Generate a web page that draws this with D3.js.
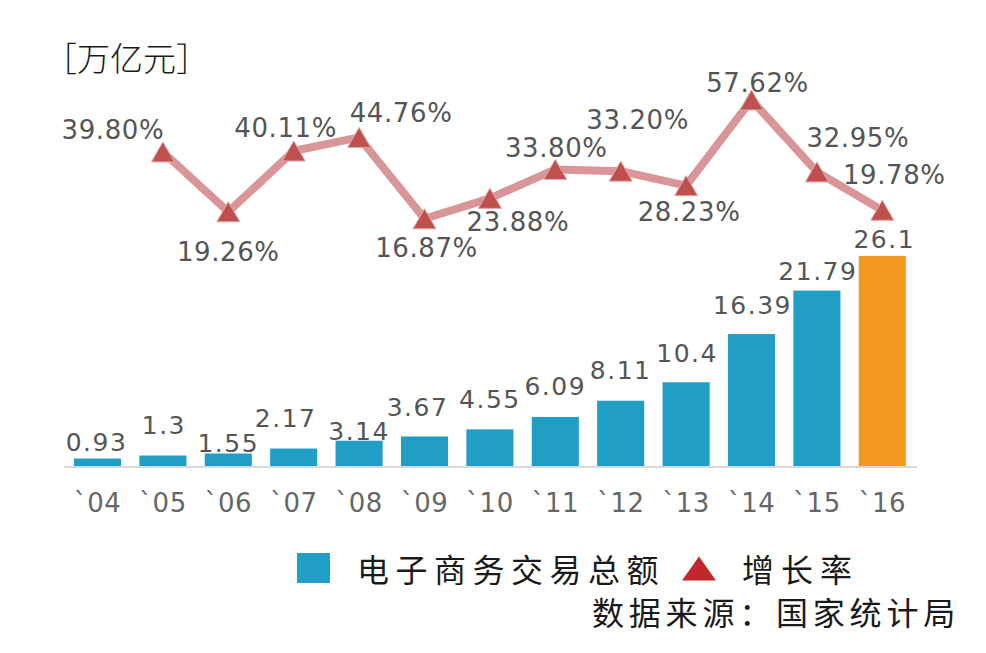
<!DOCTYPE html>
<html>
<head>
<meta charset="utf-8">
<script src="https://cdn.jsdelivr.net/npm/d3@7"></script>
<style>
  html, body { margin: 0; padding: 0; background: #ffffff; }
  svg { display: block; }
</style>
</head>
<body>
<svg id="chart" width="986" height="653"></svg>
<script>
// ---- data ----
const years = ["`04", "`05", "`06", "`07", "`08", "`09", "`10", "`11", "`12", "`13", "`14", "`15", "`16"];
const totals = [0.93, 1.3, 1.55, 2.17, 3.14, 3.67, 4.55, 6.09, 8.11, 10.4, 16.39, 21.79, 26.1];
const totalLabels = ["0.93", "1.3", "1.55", "2.17", "3.14", "3.67", "4.55", "6.09", "8.11", "10.4", "16.39", "21.79", "26.1"];
const growthYears = ["`05", "`06", "`07", "`08", "`09", "`10", "`11", "`12", "`13", "`14", "`15", "`16"];
const growth = [39.80, 19.26, 40.11, 44.76, 16.87, 23.88, 33.80, 33.20, 28.23, 57.62, 32.95, 19.78];
const unitLabel = "［万亿元］";
const legendBar = "电子商务交易总额";
const legendLine = "增长率";
const sourceText = "数据来源：国家统计局";

// ---- layout ----
const svg = d3.select("#chart");
const numFont = "'DejaVu Sans', Verdana, sans-serif";
const cjkFont = "'Noto Sans CJK SC', 'Noto Sans', sans-serif";

const x = d3.scaleBand().domain(years).range([64.8, 64.8 + 13 * 65.4]).paddingInner(0.28).paddingOuter(0.14);
const yBar = d3.scaleLinear().domain([0, 30]).range([466, 466 - 30 * 8.05]);
const yLine = d3.scaleLinear().domain([0, 60]).range([268, 93]);
const cx = d => x(d) + x.bandwidth() / 2;

// bar label offsets (relative to bar centre / bar top)
const barLabelOff = [[-1, -16], [1, -30], [0, -10], [-8, -30], [0, -9], [-7, -29], [0, -30],
                     [0, -30], [0, -30], [1, -29], [1, -29], [1, -19], [2, -16]];
// growth label offsets (relative to point)
const lineLabelOff = [[-50, -22], [0, 40], [-8, -23], [42, -24], [2, 29], [28, 24], [1, -21],
                      [17, -51], [3, 26], [6, -17], [41, -34], [12, -35]];

// unit title
svg.append("text")
  .attr("x", 44).attr("y", 57)
  .attr("dominant-baseline", "central")
  .attr("font-family", cjkFont).attr("font-size", 33).attr("font-weight", 300)
  .attr("fill", "#1a1a1a")
  .text(unitLabel);

// baseline
svg.append("line")
  .attr("x1", 64).attr("x2", 917)
  .attr("y1", yBar(0) + 1).attr("y2", yBar(0) + 1)
  .attr("stroke", "#d9d9d9").attr("stroke-width", 2);

// bars
svg.append("g").selectAll("rect").data(years).join("rect")
  .attr("x", d => x(d))
  .attr("width", x.bandwidth())
  .attr("y", (d, i) => yBar(totals[i]))
  .attr("height", (d, i) => yBar(0) - yBar(totals[i]))
  .attr("fill", (d, i) => i === years.length - 1 ? "#f29a1f" : "#219ec6");

// bar value labels
svg.append("g").selectAll("text").data(years).join("text")
  .attr("x", (d, i) => cx(d) + barLabelOff[i][0])
  .attr("y", (d, i) => yBar(totals[i]) + barLabelOff[i][1])
  .attr("text-anchor", "middle").attr("dominant-baseline", "central")
  .attr("font-family", numFont).attr("font-size", 25).attr("letter-spacing", 1.5)
  .attr("fill", "#555")
  .text((d, i) => totalLabels[i]);

// x axis labels
const xAxis = d3.axisBottom(x).tickSize(0).tickPadding(0);
const gx = svg.append("g").attr("transform", `translate(0,${503})`).call(xAxis);
gx.select(".domain").remove();
gx.selectAll("text")
  .attr("dy", null).attr("y", 0)
  .attr("dominant-baseline", "central")
  .attr("font-family", numFont).attr("font-size", 26).attr("letter-spacing", 0.5)
  .attr("fill", "#666");

// growth line
const line = d3.line().x(d => cx(d[0])).y(d => yLine(d[1]));
const pts = growthYears.map((g, i) => [g, growth[i]]);
svg.append("path")
  .datum(pts)
  .attr("d", line)
  .attr("fill", "none")
  .attr("stroke", "#d99598").attr("stroke-width", 8).attr("stroke-linejoin", "round");

// triangles
const tri = (px, py, w, h) => `M${px},${py - h / 2}L${px + w / 2},${py + h / 2}L${px - w / 2},${py + h / 2}Z`;
svg.append("g").selectAll("path").data(pts).join("path")
  .attr("d", d => tri(cx(d[0]), yLine(d[1]), 23, 20))
  .attr("fill", "#c0504d")
  .attr("stroke", "#e3a4a4").attr("stroke-width", 1);

// growth labels
svg.append("g").selectAll("text").data(pts).join("text")
  .attr("x", (d, i) => cx(d[0]) + lineLabelOff[i][0])
  .attr("y", (d, i) => yLine(d[1]) + lineLabelOff[i][1])
  .attr("text-anchor", "middle").attr("dominant-baseline", "central")
  .attr("font-family", numFont).attr("font-size", 26).attr("letter-spacing", 0.6)
  .attr("fill", "#555")
  .text(d => d[1].toFixed(2) + "%");

// legend
svg.append("rect").attr("x", 297).attr("y", 553).attr("width", 33).attr("height", 30)
  .attr("fill", "#219ec6");
svg.append("text").attr("x", 357).attr("y", 568)
  .attr("dominant-baseline", "central")
  .attr("font-family", cjkFont).attr("font-size", 32).attr("letter-spacing", 6.5)
  .attr("fill", "#1a1a1a")
  .text(legendBar);
svg.append("path").attr("d", tri(699, 568.5, 34, 24)).attr("fill", "#c0282d");
svg.append("text").attr("x", 742).attr("y", 568)
  .attr("dominant-baseline", "central")
  .attr("font-family", cjkFont).attr("font-size", 32).attr("letter-spacing", 7)
  .attr("fill", "#1a1a1a")
  .text(legendLine);

// source
svg.append("text").attr("x", 592).attr("y", 611)
  .attr("dominant-baseline", "central")
  .attr("font-family", cjkFont).attr("font-size", 32).attr("letter-spacing", 4.8)
  .attr("fill", "#1a1a1a")
  .text(sourceText);
</script>
</body>
</html>
